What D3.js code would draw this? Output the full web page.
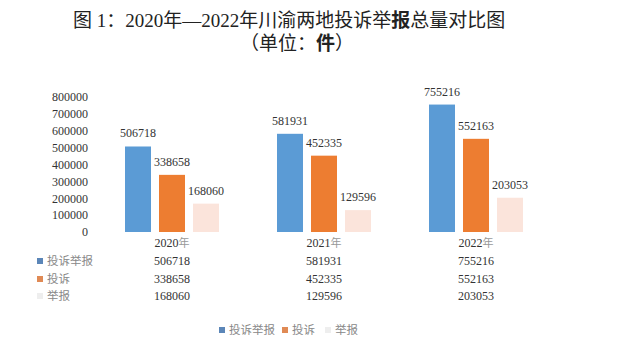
<!DOCTYPE html>
<html>
<head>
<meta charset="utf-8">
<script src="https://cdn.jsdelivr.net/npm/d3@7"></script>
<style>
  body { margin: 0; background: #fff; }
  svg text { font-family: "Liberation Serif", "Noto Sans CJK SC", serif; }
</style>
</head>
<body>
<div id="chart"></div>
<script>
// chart data
var years = ["2020", "2021", "2022"];
var seriesNames = ["投诉举报", "投诉", "举报"];
var totalValues = [506718, 581931, 755216];
var complaintValues = [338658, 452335, 552163];
var reportValues = [168060, 129596, 203053];
var yTicks = [0, 100000, 200000, 300000, 400000, 500000, 600000, 700000, 800000];

var colors = ["#5b9bd5", "#ed7d31", "#fbe4db"];
var legendColors = ["#5b86b8", "#e08a55", "#eeeeee"];
var series = [totalValues, complaintValues, reportValues];

var width = 640, height = 362;

var svg = d3.select("#chart")
  .append("svg")
  .attr("width", width)
  .attr("height", height);

// title
var title = svg.append("text")
  .attr("x", 73)
  .attr("y", 27)
  .attr("font-size", 19)
  .attr("fill", "#222");
title.append("tspan").text("图 1：2020年—2022年川渝两地投诉举");
title.append("tspan").attr("font-weight", "bold").text("报");
title.append("tspan").text("总量对比图");

var sub = svg.append("text")
  .attr("x", 240)
  .attr("y", 50)
  .attr("font-size", 19)
  .attr("fill", "#222");
sub.append("tspan").text("（单位：");
sub.append("tspan").attr("font-weight", "bold").text("件");
sub.append("tspan").text("）");

// scales
var x0 = d3.scaleBand()
  .domain(years)
  .range([96, 552])
  .padding(0);

var x1 = d3.scaleBand()
  .domain(seriesNames)
  .range([0, 94])
  .paddingInner(8 / 34)
  .paddingOuter(0);

var y = d3.scaleLinear()
  .domain([0, 800000])
  .range([232, 97]);

// y axis labels
var yAxis = d3.axisLeft(y)
  .tickValues(yTicks)
  .tickSize(0)
  .tickPadding(0)
  .tickFormat(d3.format("d"));

svg.append("g")
  .attr("transform", "translate(88,0)")
  .call(yAxis)
  .call(function(g) { g.select(".domain").remove(); })
  .selectAll("text")
  .attr("font-size", 12)
  .attr("fill", "#333")
  .style("font-family", "'Liberation Serif', serif");

// bars
var groups = svg.selectAll(".grp")
  .data(years)
  .enter().append("g")
  .attr("class", "grp")
  .attr("transform", function(d) {
    return "translate(" + (x0(d) + x0.bandwidth() / 2 - 47) + ",0)";
  });

groups.selectAll("rect")
  .data(function(d, i) {
    return seriesNames.map(function(s, j) { return { s: s, j: j, v: series[j][i] }; });
  })
  .enter().append("rect")
  .attr("x", function(d) { return x1(d.s); })
  .attr("y", function(d) { return y(d.v); })
  .attr("width", x1.bandwidth())
  .attr("height", function(d) { return y(0) - y(d.v); })
  .attr("fill", function(d) { return colors[d.j]; });

groups.selectAll(".lbl")
  .data(function(d, i) {
    return seriesNames.map(function(s, j) { return { s: s, j: j, v: series[j][i] }; });
  })
  .enter().append("text")
  .attr("class", "lbl")
  .attr("x", function(d) { return x1(d.s) + x1.bandwidth() / 2; })
  .attr("y", function(d) { return y(d.v) - 9; })
  .attr("text-anchor", "middle")
  .attr("font-size", 12)
  .attr("fill", "#333")
  .text(function(d) { return d.v; });

// data table
var rowY = [261, 279, 296];

svg.selectAll(".yr")
  .data(years)
  .enter().append("text")
  .attr("class", "yr")
  .attr("x", function(d) { return x0(d) + x0.bandwidth() / 2; })
  .attr("y", 247)
  .attr("text-anchor", "middle")
  .attr("font-size", 12)
  .attr("fill", "#333")
  .each(function(d) {
    d3.select(this).append("tspan").text(d);
    d3.select(this).append("tspan").attr("fill", "#999").attr("font-size", 11).text("年");
  });

seriesNames.forEach(function(name, j) {
  svg.append("rect")
    .attr("x", 37)
    .attr("y", rowY[j] - 3)
    .attr("width", 6)
    .attr("height", 6)
    .attr("fill", legendColors[j]);
  svg.append("text")
    .attr("x", 47)
    .attr("y", rowY[j] + 4)
    .attr("font-size", 11.5)
    .attr("fill", "#888")
    .text(name);
  svg.selectAll(".v" + j)
    .data(series[j])
    .enter().append("text")
    .attr("x", function(d, i) { return x0(years[i]) + x0.bandwidth() / 2; })
    .attr("y", rowY[j] + 4)
    .attr("text-anchor", "middle")
    .attr("font-size", 12)
    .attr("fill", "#333")
    .text(function(d) { return d; });
});

// bottom legend
var legendX = [219, 282, 325];
seriesNames.forEach(function(name, j) {
  svg.append("rect")
    .attr("x", legendX[j])
    .attr("y", 327)
    .attr("width", 6)
    .attr("height", 6)
    .attr("fill", legendColors[j]);
  svg.append("text")
    .attr("x", legendX[j] + 10)
    .attr("y", 334)
    .attr("font-size", 11.5)
    .attr("fill", "#888")
    .text(name);
});
</script>
</body>
</html>
